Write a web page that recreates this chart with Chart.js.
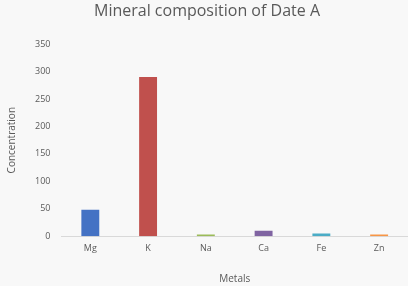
<!DOCTYPE html>
<html><head><meta charset="utf-8">
<script src="https://cdn.jsdelivr.net/npm/chart.js@4"></script>
<style>html,body{margin:0;padding:0;background:#f8f8f8;}#w{width:408px;height:286px;}</style>
</head><body><div id="w"><canvas id="c" width="408" height="286"></canvas></div>
<script>
const categories = ["Mg","K","Na","Ca","Fe","Zn"];
const values = [48, 290, 3, 10, 5, 3];
const colors = ["#4472C4","#C0504D","#9BBB59","#8064A2","#4BACC6","#F79646"];
const yTicks = [0,50,100,150,200,250,300,350];
const txt = "#595959";
const bg = {id:'bg',beforeDraw(c){const x=c.ctx;x.save();x.fillStyle='#f8f8f8';x.fillRect(0,0,c.width,c.height);x.restore();}};
new Chart(document.getElementById('c'),{
  type:'bar',
  data:{labels:categories,datasets:[{data:values,backgroundColor:colors,barPercentage:1,categoryPercentage:0.31}]},
  options:{
    responsive:false,animation:false,
    layout:{padding:{left:6,right:0,top:0,bottom:1}},
    plugins:{legend:{display:false},tooltip:{enabled:false},
      title:{display:true,text:"Mineral composition of Date A",color:txt,font:{family:"Open Sans",size:16,weight:'normal'},padding:{top:2,bottom:23}}},
    scales:{
      x:{grid:{display:false,drawTicks:false},border:{color:"#d9d9d9"},
        ticks:{color:txt,font:{family:"Open Sans",size:9},padding:7},
        title:{display:true,text:"Metals",color:txt,font:{family:"Open Sans",size:10},padding:{top:12,bottom:0}}},
      y:{min:0,max:350,afterBuildTicks(a){a.ticks=yTicks.map(v=>({value:v}));},
        grid:{display:false,drawTicks:false},border:{display:false},
        ticks:{color:txt,font:{family:"Open Sans",size:9},padding:11},
        title:{display:true,text:"Concentration",color:txt,font:{family:"Open Sans",size:10},padding:{top:0,bottom:6}}}
    }
  },
  plugins:[bg]
});
</script></body></html>
